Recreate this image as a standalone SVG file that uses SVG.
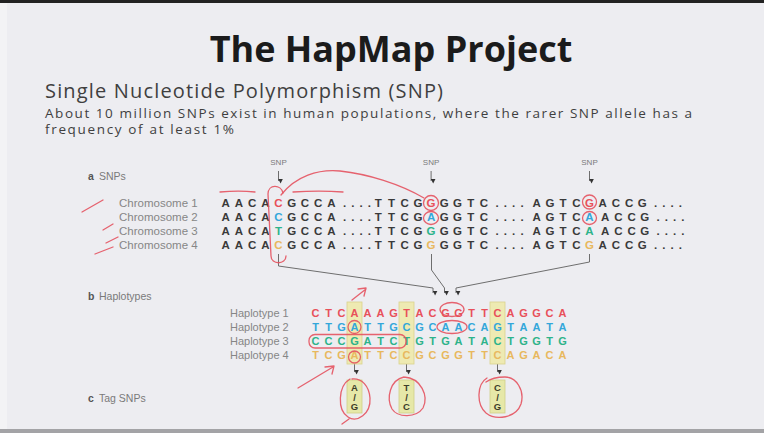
<svg xmlns="http://www.w3.org/2000/svg" width="764" height="433" viewBox="0 0 764 433">
  <defs>
    <style>
      .title { font-family: "Open Sans", "Liberation Sans", sans-serif; font-weight: 700; font-size: 36px; fill: #1b1b1b; }
      .sub { font-family: "Open Sans", "Liberation Sans", sans-serif; font-size: 20px; fill: #3f3f3f; }
      .body { font-family: "Open Sans", "Liberation Sans", sans-serif; font-size: 13.5px; fill: #3f3f3f; }
      .lab { font-family: "Liberation Sans", Arial, sans-serif; font-size: 11.5px; fill: #868686; }
      .hlab { font-family: "Liberation Sans", Arial, sans-serif; font-size: 11px; fill: #868686; }
      .sec { font-family: "Liberation Sans", Arial, sans-serif; font-size: 10.5px; fill: #7a7a7a; }
      .bul { font-family: "Liberation Sans", Arial, sans-serif; font-size: 10.5px; font-weight: 700; fill: #555; }
      .snp { font-family: "Liberation Sans", Arial, sans-serif; font-size: 8px; fill: #7a7a7a; text-anchor: middle; }
      .seq { font-family: "Liberation Sans", Arial, sans-serif; font-size: 11.5px; font-weight: 700; fill: #3a3a3a; text-anchor: middle; }
      .hap { font-family: "Liberation Sans", Arial, sans-serif; font-size: 11px; font-weight: 700; text-anchor: middle; }
      .tag { font-family: "Liberation Sans", Arial, sans-serif; font-size: 9.5px; font-weight: 700; fill: #3d3d2a; text-anchor: middle; }
      .r { fill: #e8505a; }
      .b { fill: #33a7da; }
      .g { fill: #2db38a; }
      .y { fill: #e8b85e; }
      .conn { fill: none; stroke: #6e6e6e; stroke-width: 1; }
      .hl { fill: #eeeab2; stroke: #d9d38c; stroke-width: 0.8; }
      .tbox { fill: #e6e8a8; stroke: #cfd087; stroke-width: 0.8; }
      .pen { fill: none; stroke: #e4525f; stroke-width: 1.3; stroke-linecap: round; stroke-linejoin: round; opacity: 0.9; }
    </style>
    <marker id="tip" viewBox="0 0 6 6" refX="3" refY="5.5" markerWidth="5" markerHeight="5" orient="auto" markerUnits="userSpaceOnUse">
      <path d="M0,0 L6,3 L0,6 Z" fill="#333"/>
    </marker>
  </defs>

  <!-- slide frame -->
  <rect x="0" y="0" width="764" height="433" fill="#ededf1"/>
  <rect x="0" y="0" width="7" height="433" fill="#f3f3f5"/>
  <rect x="0" y="0" width="764" height="3" fill="#222"/>
  <rect x="0" y="429" width="764" height="4" fill="#a3a3a6"/>

  <!-- heading and intro text -->
  <g id="heading">
    <text class="title" x="391" y="62" text-anchor="middle">The HapMap Project</text>
    <text class="sub" x="45" y="97.5" textLength="398" lengthAdjust="spacing">Single Nucleotide Polymorphism (SNP)</text>
    <text class="body" x="45" y="117.5" textLength="647" lengthAdjust="spacing">About 10 million SNPs exist in human populations, where the rarer SNP allele has a</text>
    <text class="body" x="45" y="134" textLength="189" lengthAdjust="spacing">frequency of at least 1%</text>
  </g>

  <!-- section labels -->
  <g id="section-a">
    <text class="bul" x="88" y="180">a</text>
    <text class="sec" x="99" y="180">SNPs</text>
  </g>
  <g id="section-b">
    <text class="bul" x="88" y="300">b</text>
    <text class="sec" x="99" y="300">Haplotypes</text>
  </g>
  <g id="section-c">
    <text class="bul" x="88" y="402">c</text>
    <text class="sec" x="99" y="402">Tag SNPs</text>
  </g>

  <!-- SNP position markers -->
  <g id="snp-markers">
    <text class="snp" x="278.5" y="165">SNP</text>
    <text class="snp" x="431.1" y="165">SNP</text>
    <text class="snp" x="589.5" y="165">SNP</text>
    <line class="conn" x1="278.5" y1="171" x2="278.5" y2="181" marker-end="url(#tip)"/>
    <line class="conn" x1="431.1" y1="171" x2="431.1" y2="181" marker-end="url(#tip)"/>
    <line class="conn" x1="589.5" y1="171" x2="589.5" y2="181" marker-end="url(#tip)"/>
  </g>

  <!-- chromosomes -->
  <g id="chromosome-1">
    <text class="lab" x="119" y="207">Chromosome 1</text>
    <text class="seq" y="207"><tspan x="225.7 238.9 252.1 265.3">AACA</tspan><tspan class="r" x="278.5">C</tspan><tspan x="291.7 304.9 318.1 331.3 344.5 352.8 361.1 369.4 378.3 391.5 404.7 417.9">GCCA....TTCG</tspan><tspan class="r" x="431.1">G</tspan><tspan x="444.3 457.5 470.7 483.9 497.1 505.4 513.7 522.0 536.7 549.9 563.1 576.3">GGTC....AGTC</tspan><tspan class="r" x="589.5">G</tspan><tspan x="602.7 615.9 629.1 642.3 655.5 663.8 672.1 680.4">ACCG....</tspan></text>
  </g>
  <g id="chromosome-2">
    <text class="lab" x="119" y="221">Chromosome 2</text>
    <text class="seq" y="221"><tspan x="225.7 238.9 252.1 265.3">AACA</tspan><tspan class="b" x="278.5">C</tspan><tspan x="291.7 304.9 318.1 331.3 344.5 352.8 361.1 369.4 378.3 391.5 404.7 417.9">GCCA....TTCG</tspan><tspan class="b" x="431.1">A</tspan><tspan x="444.3 457.5 470.7 483.9 497.1 505.4 513.7 522.0 536.7 549.9 563.1 576.3">GGTC....AGTC</tspan><tspan class="b" x="589.5">A</tspan><tspan x="605.2 618.4 631.6 644.8 658.0 666.3 674.6 682.9">ACCG....</tspan></text>
  </g>
  <g id="chromosome-3">
    <text class="lab" x="119" y="235">Chromosome 3</text>
    <text class="seq" y="235"><tspan x="225.7 238.9 252.1 265.3">AACA</tspan><tspan class="g" x="278.5">T</tspan><tspan x="291.7 304.9 318.1 331.3 344.5 352.8 361.1 369.4 378.3 391.5 404.7 417.9">GCCA....TTCG</tspan><tspan class="g" x="431.1">G</tspan><tspan x="444.3 457.5 470.7 483.9 497.1 505.4 513.7 522.0 536.7 549.9 563.1 576.3">GGTC....AGTC</tspan><tspan class="g" x="589.5">A</tspan><tspan x="605.2 618.4 631.6 644.8 658.0 666.3 674.6 682.9">ACCG....</tspan></text>
  </g>
  <g id="chromosome-4">
    <text class="lab" x="119" y="249">Chromosome 4</text>
    <text class="seq" y="249"><tspan x="225.7 238.9 252.1 265.3">AACA</tspan><tspan class="y" x="278.5">C</tspan><tspan x="291.7 304.9 318.1 331.3 344.5 352.8 361.1 369.4 378.3 391.5 404.7 417.9">GCCA....TTCG</tspan><tspan class="y" x="431.1">G</tspan><tspan x="444.3 457.5 470.7 483.9 497.1 505.4 513.7 522.0 536.7 549.9 563.1 576.3">GGTC....AGTC</tspan><tspan class="y" x="589.5">G</tspan><tspan x="602.7 615.9 629.1 642.3 655.5 663.8 672.1 680.4">ACCG....</tspan></text>
  </g>

  <!-- connectors from SNP columns down to the haplotypes, and to the tag SNPs -->
  <g id="connectors">
    <path class="conn" d="M278.5,254 V266 L433,288 V293" marker-end="url(#tip)"/>
    <path class="conn" d="M431.5,254 V270 L444.5,288 V293" marker-end="url(#tip)"/>
    <path class="conn" d="M589.5,254 V262 L456,288 V293" marker-end="url(#tip)"/>
    <line class="conn" x1="354.5" y1="364" x2="354.5" y2="372" marker-end="url(#tip)"/>
    <line class="conn" x1="406.5" y1="364" x2="406.5" y2="372" marker-end="url(#tip)"/>
    <line class="conn" x1="497.5" y1="364" x2="497.5" y2="372" marker-end="url(#tip)"/>
  </g>

  <!-- tag SNP columns -->
  <g id="tag-columns">
    <rect class="hl" x="347" y="302" width="15" height="62"/>
    <rect class="hl" x="399" y="302" width="15" height="62"/>
    <rect class="hl" x="490" y="302" width="15" height="62"/>
  </g>

  <!-- haplotypes -->
  <g id="haplotype-1">
    <text class="hlab" x="230" y="317">Haplotype 1</text>
    <text class="hap r" y="317" x="315.5 328.5 341.5 354.5 367.5 380.5 393.5 406.5 419.5 432.5 445.5 458.5 471.5 484.5 497.5 510.5 523.5 536.5 549.5 562.5">CTCAAAGTACGGTTCAGGCA</text>
  </g>
  <g id="haplotype-2">
    <text class="hlab" x="230" y="331">Haplotype 2</text>
    <text class="hap b" y="331" x="315.5 328.5 341.5 354.5 367.5 380.5 393.5 406.5 419.5 432.5 445.5 458.5 471.5 484.5 497.5 510.5 523.5 536.5 549.5 562.5">TTGATTGCGCAACAGTAATA</text>
  </g>
  <g id="haplotype-3">
    <text class="hlab" x="230" y="345">Haplotype 3</text>
    <text class="hap g" y="345" x="315.5 328.5 341.5 354.5 367.5 380.5 393.5 406.5 419.5 432.5 445.5 458.5 471.5 484.5 497.5 510.5 523.5 536.5 549.5 562.5">CCCGATCTGTGATACTGGTG</text>
  </g>
  <g id="haplotype-4">
    <text class="hlab" x="230" y="359">Haplotype 4</text>
    <text class="hap y" y="359" x="315.5 328.5 341.5 354.5 367.5 380.5 393.5 406.5 419.5 432.5 445.5 458.5 471.5 484.5 497.5 510.5 523.5 536.5 549.5 562.5">TCGATTCCGCGGTTCAGACA</text>
  </g>

  <!-- tag SNPs -->
  <g id="tag-1">
    <rect class="tbox" x="347" y="380" width="15" height="33"/>
    <text class="tag" x="354.5" y="391">A</text>
    <text class="tag" x="354.5" y="400.5">/</text>
    <text class="tag" x="354.5" y="410">G</text>
  </g>
  <g id="tag-2">
    <rect class="tbox" x="399" y="380" width="15" height="33"/>
    <text class="tag" x="406.5" y="391">T</text>
    <text class="tag" x="406.5" y="400.5">/</text>
    <text class="tag" x="406.5" y="410">C</text>
  </g>
  <g id="tag-3">
    <rect class="tbox" x="490" y="380" width="15" height="33"/>
    <text class="tag" x="497.5" y="391">C</text>
    <text class="tag" x="497.5" y="400.5">/</text>
    <text class="tag" x="497.5" y="410">G</text>
  </g>

  <!-- pen annotations -->
  <g id="pen-marks">
    <path class="pen" d="M82,212 L103,200"/>
    <path class="pen" d="M103,230 L113,224" opacity="0.6"/>
    <path class="pen" d="M106,243 L118,237" opacity="0.6"/>
    <path class="pen" d="M95,254 L113,247"/>
    <path class="pen" d="M220,192 C232,191 245,191 255,192"/>
    <path class="pen" d="M293,192 C310,191 328,191 343,192"/>
    <path class="pen" d="M286,256 C286,265 271,265 271,256 L268,194 C268,184 281,184 283,193"/>
    <path class="pen" d="M281,195 C296,176 318,169 340,171 C368,174 400,184 424,198"/>
    <circle class="pen" cx="431" cy="203" r="7.5"/>
    <ellipse class="pen" cx="431" cy="218" rx="7.5" ry="6.5"/>
    <circle class="pen" cx="589.5" cy="202" r="7"/>
    <ellipse class="pen" cx="589.5" cy="218" rx="7" ry="6.5"/>
    <path class="pen" d="M352,300 L366,289 M358,289 L366,288 L364,296"/>
    <ellipse class="pen" cx="452" cy="309.5" rx="12" ry="7"/>
    <ellipse class="pen" cx="452" cy="327" rx="15" ry="6.5"/>
    <circle class="pen" cx="354.5" cy="327" r="6.5"/>
    <rect class="pen" x="309" y="334.5" width="97" height="13.5" rx="6"/>
    <circle class="pen" cx="354.5" cy="357" r="6"/>
    <path class="pen" d="M298,388 L333,367 M325,367 L334,366 L332,374"/>
    <path class="pen" d="M350,379 C338,386 337,410 348,417 C357,423 371,414 370,398 C369,386 362,378 352,379 M349,419 L342,424"/>
    <path class="pen" d="M404,377 C390,380 386,398 392,409 C398,418 416,418 423,408 C429,396 421,378 404,377"/>
    <path class="pen" d="M487,378 C477,384 476,404 486,413 C496,421 516,418 521,404 C525,390 516,377 505,377 C498,377 490,379 486,382"/>
  </g>
</svg>
